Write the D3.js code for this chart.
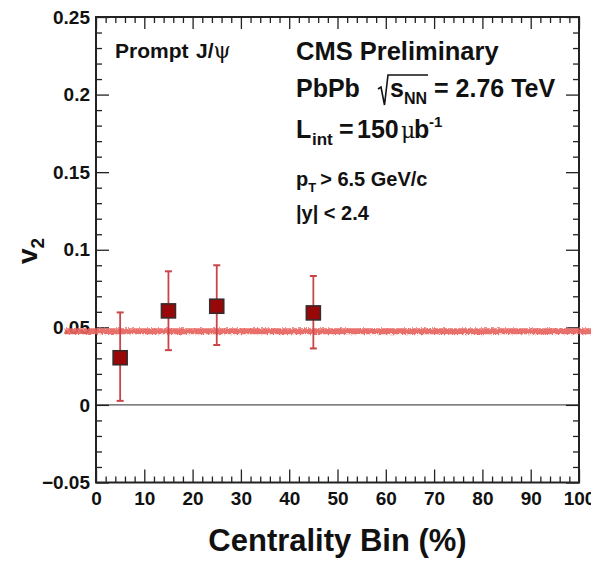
<!DOCTYPE html>
<html>
<head>
<meta charset="utf-8">
<script src="https://cdn.jsdelivr.net/npm/d3@7"></script>
<style>
  html, body { margin: 0; padding: 0; background: #fff; }
  svg { display: block; font-family: "Liberation Sans", Arial, Helvetica, sans-serif; font-weight: bold; }
</style>
</head>
<body>
<svg id="chart" width="591" height="561"></svg>
<script>
// Prompt J/psi v2 versus centrality
const centrality = [5, 15, 25, 45];
const v2 = [0.0304, 0.0606, 0.0636, 0.0593];
const errLow = [0.0278, 0.0253, 0.0250, 0.0229];
const errHigh = [0.0292, 0.0255, 0.0264, 0.0238];
const fitValue = 0.0474;
const fitRange = [-6.5, 103];
const xTicks = [0, 10, 20, 30, 40, 50, 60, 70, 80, 90, 100];
const yTicks = [-0.05, 0, 0.05, 0.1, 0.15, 0.2, 0.25];
const xDomain = [0, 100];
const yDomain = [-0.05, 0.25];

const svg = d3.select("#chart");
const frame = { left: 96, right: 579, top: 17, bottom: 482.5 };

const x = d3.scaleLinear().domain(xDomain).range([frame.left, frame.right]);
const y = d3.scaleLinear().domain(yDomain).range([frame.bottom, frame.top]);

const xMinor = d3.range(0, 101, 2).filter(v => v % 10 !== 0);
const yMinor = d3.range(-50, 251, 10).map(v => v / 1000).filter(v => Math.round(v * 1000) % 50 !== 0);

const axisColor = "#222";
const fmt = d3.format("~g");

// grainy texture for the fit line
const defs = svg.append("defs");
const f = defs.append("filter").attr("id", "grain")
  .attr("filterUnits", "userSpaceOnUse")
  .attr("x", 0).attr("y", 0).attr("width", 591).attr("height", 561);
f.append("feTurbulence").attr("type", "fractalNoise").attr("baseFrequency", "0.7 0.45").attr("numOctaves", 2).attr("seed", 3).attr("result", "noise");
f.append("feDisplacementMap").attr("in", "SourceGraphic").attr("in2", "noise").attr("scale", 4).attr("xChannelSelector", "R").attr("yChannelSelector", "G");

// zero line
svg.append("line")
  .attr("x1", x(xDomain[0])).attr("x2", x(xDomain[1]))
  .attr("y1", y(0)).attr("y2", y(0))
  .attr("stroke", "#555").attr("stroke-width", 1.2);

// axes (ticks pointing inward, ROOT style)
function styleAxis(g) {
  g.select(".domain").remove();
  g.selectAll("line").attr("stroke", axisColor).attr("stroke-width", 1.3);
  g.selectAll("text").attr("fill", "#111").attr("font-size", 19).attr("font-family", "Liberation Sans, Arial, sans-serif").attr("font-weight", "bold");
}

svg.append("g").attr("transform", `translate(0,${frame.bottom})`)
  .call(d3.axisBottom(x).tickValues(xTicks).tickFormat(fmt).tickSizeInner(-13).tickSizeOuter(0).tickPadding(9))
  .call(styleAxis);
svg.append("g").attr("transform", `translate(0,${frame.bottom})`)
  .call(d3.axisBottom(x).tickValues(xMinor).tickFormat("").tickSizeInner(-6).tickSizeOuter(0))
  .call(styleAxis);
svg.append("g").attr("transform", `translate(0,${frame.top})`)
  .call(d3.axisTop(x).tickValues(xTicks).tickFormat("").tickSizeInner(-12).tickSizeOuter(0))
  .call(styleAxis);
svg.append("g").attr("transform", `translate(0,${frame.top})`)
  .call(d3.axisTop(x).tickValues(xMinor).tickFormat("").tickSizeInner(-6).tickSizeOuter(0))
  .call(styleAxis);

svg.append("g").attr("transform", `translate(${frame.left},0)`)
  .call(d3.axisLeft(y).tickValues(yTicks).tickFormat(fmt).tickSizeInner(-13).tickSizeOuter(0).tickPadding(6))
  .call(styleAxis);
svg.append("g").attr("transform", `translate(${frame.left},0)`)
  .call(d3.axisLeft(y).tickValues(yMinor).tickFormat("").tickSizeInner(-6).tickSizeOuter(0))
  .call(styleAxis);
svg.append("g").attr("transform", `translate(${frame.right},0)`)
  .call(d3.axisRight(y).tickValues(yTicks).tickFormat("").tickSizeInner(-13).tickSizeOuter(0))
  .call(styleAxis);
svg.append("g").attr("transform", `translate(${frame.right},0)`)
  .call(d3.axisRight(y).tickValues(yMinor).tickFormat("").tickSizeInner(-6).tickSizeOuter(0))
  .call(styleAxis);

// frame
svg.append("rect")
  .attr("x", frame.left).attr("y", frame.top)
  .attr("width", frame.right - frame.left).attr("height", frame.bottom - frame.top)
  .attr("fill", "none").attr("stroke", axisColor).attr("stroke-width", 2);

// constant fit line
svg.append("line")
  .attr("x1", x(fitRange[0])).attr("x2", x(fitRange[1]))
  .attr("y1", y(fitValue)).attr("y2", y(fitValue))
  .attr("stroke", "#e8645e").attr("stroke-width", 6).attr("opacity", 0.92)
  .attr("filter", "url(#grain)");

// error bars
const pts = centrality.map((c, i) => ({ c, v: v2[i], lo: v2[i] - errLow[i], hi: v2[i] + errHigh[i] }));
const errCol = "#c9454a";
const eb = svg.append("g");
eb.selectAll("line.v").data(pts).join("line")
  .attr("x1", d => x(d.c)).attr("x2", d => x(d.c))
  .attr("y1", d => y(d.lo)).attr("y2", d => y(d.hi))
  .attr("stroke", errCol).attr("stroke-width", 1.8);
eb.selectAll("line.t").data(pts).join("line")
  .attr("x1", d => x(d.c) - 3.5).attr("x2", d => x(d.c) + 3.5)
  .attr("y1", d => y(d.hi)).attr("y2", d => y(d.hi))
  .attr("stroke", errCol).attr("stroke-width", 2);
eb.selectAll("line.b").data(pts).join("line")
  .attr("x1", d => x(d.c) - 3.5).attr("x2", d => x(d.c) + 3.5)
  .attr("y1", d => y(d.lo)).attr("y2", d => y(d.lo))
  .attr("stroke", errCol).attr("stroke-width", 2);

// markers
const ms = 14;
svg.append("g").selectAll("rect").data(pts).join("rect")
  .attr("x", d => x(d.c) - ms / 2).attr("y", d => y(d.v) - ms / 2)
  .attr("width", ms).attr("height", ms)
  .attr("fill", "#980808").attr("stroke", "#3a2a2a").attr("stroke-width", 1.6);

// rich text helper: pieces laid out left to right (or at a fixed x)
function rich(x0, y0, parts) {
  const g = svg.append("g");
  let cx = x0;
  const boxes = [];
  parts.forEach(p => {
    if (p.at !== undefined) cx = p.at;
    cx += p.gap || 0;
    const t = g.append("text")
      .attr("x", cx).attr("y", y0 + (p.dy || 0))
      .attr("font-size", p.size).attr("fill", "#111")
      .attr("font-family", p.family || "Liberation Sans, Arial, sans-serif")
      .attr("font-weight", p.weight || "bold")
      .text(p.text);
    const w = t.node().getComputedTextLength();
    boxes.push({ x: cx, w });
    cx += w;
  });
  return boxes;
}

rich(115, 58, [
  { text: "Prompt", size: 21 },
  { text: "J/", size: 21, at: 196 },
  { text: "ψ", size: 22, family: "DejaVu Serif", weight: "normal" }
]);
rich(296, 60, [{ text: "CMS Preliminary", size: 25.5 }]);

const pb = rich(296, 97, [
  { text: "PbPb", size: 25 },
  { text: "s", size: 25, at: 390 },
  { text: "NN", size: 16, dy: 7 },
  { text: "= 2.76 TeV", size: 25, at: 434 }
]);
// square-root sign over s_NN
{
  const ex = pb[2].x + pb[2].w + 1;
  svg.append("path")
    .attr("d", `M378,89 L381,87 L384.5,105 L388,75 L${ex},75`)
    .attr("fill", "none").attr("stroke", "#111").attr("stroke-width", 1.6).attr("stroke-linejoin", "miter");
}

rich(296, 138, [
  { text: "L", size: 25 },
  { text: "int", size: 17, dy: 7, at: 312 },
  { text: "=", size: 25, at: 339 },
  { text: "150", size: 25, at: 357 },
  { text: "μ", size: 22, family: "DejaVu Serif", weight: "normal", at: 401 },
  { text: "b", size: 25, at: 414 },
  { text: "-1", size: 15, dy: -11, at: 429 }
]);

rich(296, 186, [
  { text: "p", size: 20 },
  { text: "T", size: 13, dy: 6 },
  { text: "> 6.5 GeV/c", size: 20, gap: 4 }
]);
rich(296, 220, [{ text: "|y| < 2.4", size: 20 }]);

// axis titles
svg.append("text")
  .attr("x", (frame.left + frame.right) / 2).attr("y", 551)
  .attr("text-anchor", "middle").attr("font-size", 31).attr("fill", "#111")
  .text("Centrality Bin (%)");

const yt = svg.append("text")
  .attr("transform", "translate(37,264) rotate(-90)")
  .attr("font-size", 28).attr("fill", "#111");
yt.append("tspan").text("v");
yt.append("tspan").attr("font-size", 19).attr("dy", 7).text("2");
</script>
</body>
</html>
